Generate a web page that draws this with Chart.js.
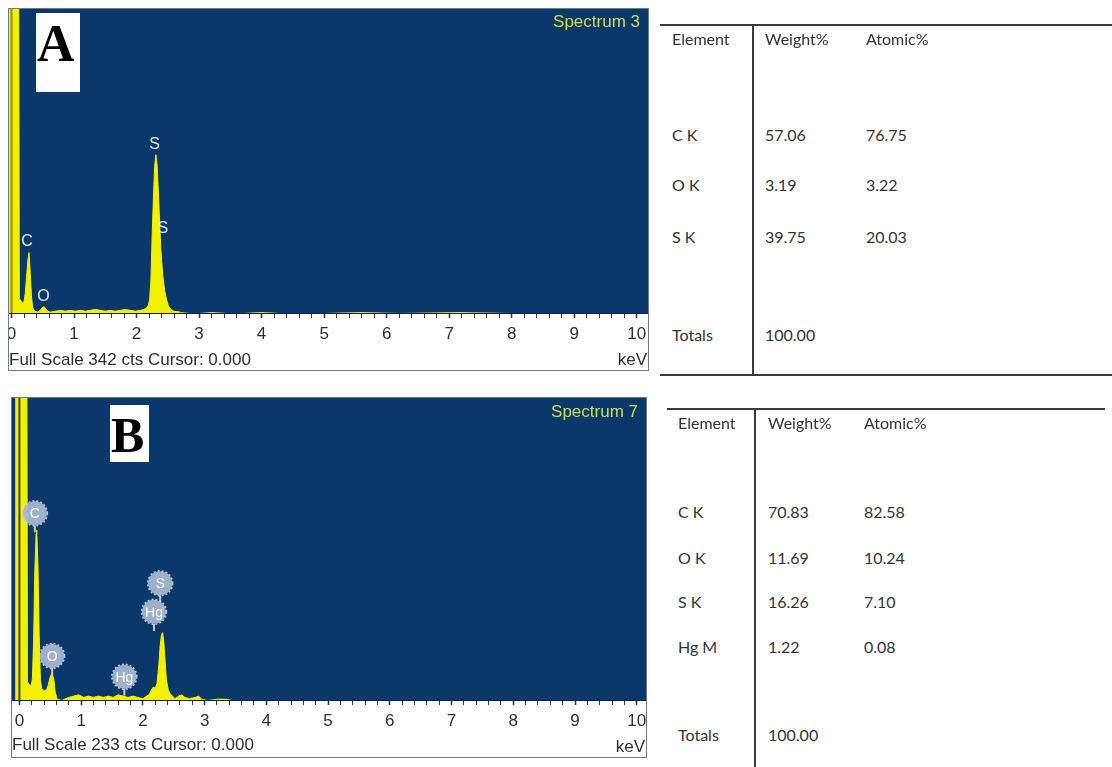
<!DOCTYPE html>
<html>
<head>
<meta charset="utf-8">
<script src="https://cdn.jsdelivr.net/npm/chart.js@4.4.1/dist/chart.umd.min.js"></script>
<style>
  html, body { margin: 0; padding: 0; background: #fff; }
  body { width: 1112px; height: 767px; position: relative; overflow: hidden;
         font-family: "Liberation Sans", Arial, sans-serif; }
  .frame { position: absolute; border: 1px solid #6c7a8f; box-sizing: border-box; }
  canvas { position: absolute; }
  .tagbox { position: absolute; background: #fff; }
  .tag { position: absolute; font-family: "Liberation Serif", "Times New Roman", serif;
         font-weight: bold; color: #000; white-space: nowrap; }
  .spec { position: absolute; color: #cddf48; font-size: 17px; line-height: 20px;
          white-space: nowrap; text-align: right; }
  .cell { position: absolute; font-family: Lato, "Open Sans", sans-serif; font-size: 16px;
          line-height: 20px; color: #333; white-space: nowrap; }
  .hl { position: absolute; height: 2px; background: #3a3a3a; }
  .vl { position: absolute; width: 2px; background: #3a3a3a; }
</style>
</head>
<body>

<!-- Spectrum 3 -->
<div class="frame" style="left:8px; top:8px; width:641px; height:363px;"></div>
<canvas id="specA" width="639" height="361" style="left:9px; top:9px;"></canvas>
<div class="tagbox" style="left:36px; top:13px; width:44px; height:79px;"></div>
<div class="tag" style="left:37px; top:18px; font-size:52px; line-height:52px;">A</div>
<div class="spec" style="right:472px; top:12px;">Spectrum 3</div>

<!-- Spectrum 7 -->
<div class="frame" style="left:11px; top:397px; width:636px; height:361px;"></div>
<canvas id="specB" width="634" height="359" style="left:12px; top:398px;"></canvas>
<div class="tagbox" style="left:110px; top:405px; width:39px; height:57px;"></div>
<div class="tag" style="left:111px; top:410px; font-size:50px; line-height:50px;">B</div>
<div class="spec" style="right:474px; top:402px;">Spectrum 7</div>

<div id="tables"></div>

<script>
// ---- spectrum 3 : energy (keV) and counts ----
const keVA = [
  -0.04, 0.00, 0.06, 0.10, 0.115, 0.125, 0.15, 0.18, 0.20, 0.22,
  0.24, 0.26, 0.28, 0.30, 0.32, 0.34, 0.37, 0.42, 0.46, 0.49,
  0.52, 0.55, 0.58, 0.62, 0.70, 0.78, 0.86, 0.94, 1.02, 1.10,
  1.18, 1.26, 1.34, 1.42, 1.50, 1.58, 1.66, 1.74, 1.82, 1.90,
  1.98, 2.06, 2.12, 2.16, 2.19, 2.21, 2.23, 2.25, 2.27, 2.29,
  2.31, 2.33, 2.35, 2.37, 2.39, 2.42, 2.45, 2.48, 2.51, 2.55,
  2.60, 2.70, 2.85, 3.00, 3.20, 3.45, 3.70, 4.00, 4.30, 4.60,
  5.00, 5.60, 6.20, 7.15, 8.00, 9.00, 10.18
];
const countsA = [
  900, 2600, 1800, 900, 400, 16, 14, 11, 13, 22,
  40, 58, 68, 45, 18, 6, 2, 1, 3, 6,
  7, 5, 2, 1, 2, 3, 2, 3, 2, 3,
  2, 3, 4, 3, 2, 3, 2, 3, 4, 3,
  2, 3, 4, 6, 9, 16, 38, 88, 130, 165,
  178, 165, 135, 100, 70, 42, 25, 15, 8, 4,
  2, 1, 0, 0, 1, 0, 0, 1, 0, 0,
  0, 1, 0, 1, 0, 0, 0
];
const fullScaleA = 342;
const peakNamesA = ['S', 'S', 'C', 'O'];
const peakKeVA   = [2.29, 2.42, 0.25, 0.51];
const peakCtsA   = [190, 95, 80, 19];

// ---- spectrum 7 : energy (keV) and counts ----
const keVB = [
  -0.12, -0.065, -0.06, 0.00, 0.06, 0.11, 0.12, 0.13, 0.16, 0.19,
  0.21, 0.23, 0.25, 0.27, 0.28, 0.30, 0.32, 0.34, 0.36, 0.40,
  0.44, 0.47, 0.50, 0.53, 0.56, 0.58, 0.61, 0.70, 0.80, 0.88,
  0.96, 1.04, 1.12, 1.20, 1.28, 1.36, 1.44, 1.52, 1.60, 1.68,
  1.76, 1.84, 1.92, 2.00, 2.06, 2.10, 2.14, 2.17, 2.20, 2.23,
  2.26, 2.28, 2.30, 2.32, 2.34, 2.36, 2.38, 2.41, 2.44, 2.48,
  2.52, 2.58, 2.63, 2.68, 2.75, 2.85, 2.90, 2.95, 3.05, 3.20,
  3.35, 3.45, 3.60, 10.15
];
const countsB = [
  0, 0, 700, 1600, 900, 500, 300, 14, 12, 11,
  16, 45, 100, 128, 131, 105, 50, 16, 9, 7,
  8, 12, 18, 21, 15, 6, 1, 0, 2, 3,
  4, 2, 3, 2, 3, 2, 3, 2, 4, 3,
  2, 3, 2, 1, 3, 4, 8, 10, 9, 13,
  28, 42, 50, 52, 44, 30, 16, 8, 5, 3,
  1, 3, 4, 2, 1, 2, 3, 1, 0, 1,
  1, 0, 0, 0
];
const fullScaleB = 233;
const peakNamesB = ['C', 'O', 'Hg', 'S', 'Hg'];
const peakKeVB   = [0.25, 0.53, 1.70, 2.28, 2.18];
const peakCtsB   = [144, 34, 18, 90, 68];

// ---- quantification tables ----
const tableHeader = ['Element', 'Weight%', 'Atomic%'];
const elementsA = ['C K', 'O K', 'S K'];
const weightA   = ['57.06', '3.19', '39.75'];
const atomicA   = ['76.75', '3.22', '20.03'];
const elementsB = ['C K', 'O K', 'S K', 'Hg M'];
const weightB   = ['70.83', '11.69', '16.26', '1.22'];
const atomicB   = ['82.58', '10.24', '7.10', '0.08'];
const totalLabel = 'Totals';
const totalValue = '100.00';

const cursorKeV = 0.0;
const PLOT_BG = '#0b386b';
const TRACE = '#f4f100';
const AXIS_FONT = { family: '"Liberation Sans", Arial, sans-serif', size: 17 };

// blue plotting field behind the trace
const fieldBackground = {
  id: 'fieldBackground',
  beforeDraw(chart) {
    const { ctx, chartArea: a } = chart;
    ctx.save();
    ctx.fillStyle = PLOT_BG;
    ctx.fillRect(a.left, a.top, a.right - a.left, a.bottom - a.top);
    ctx.restore();
  }
};

// cursor line, "keV" unit and element markers
function overlay(names, kev, cts, style, cursorAlpha) {
  return {
    id: 'overlay',
    afterDatasetsDraw(chart) {
      const { ctx, chartArea: a, scales: { x, y } } = chart;
      ctx.save();
      // cursor
      const cx = x.getPixelForValue(cursorKeV);
      ctx.strokeStyle = 'rgba(25,25,20,' + cursorAlpha + ')';
      ctx.lineWidth = 2;
      ctx.beginPath(); ctx.moveTo(cx, a.top); ctx.lineTo(cx, a.bottom); ctx.stroke();

      // unit label
      ctx.fillStyle = '#303030';
      ctx.font = '17px "Liberation Sans", Arial, sans-serif';
      ctx.textAlign = 'right';
      ctx.textBaseline = 'middle';
      ctx.fillText('keV', a.right - 1, chart.height - 10);

      // element markers
      ctx.textAlign = 'center';
      names.forEach((n, i) => {
        const px = x.getPixelForValue(kev[i]);
        const py = y.getPixelForValue(cts[i]);
        if (style === 'text') {
          ctx.fillStyle = '#e2e8f2';
          ctx.font = '16px "Liberation Sans", Arial, sans-serif';
          ctx.fillText(n, px, py);
        } else {
          const r = 12;
          ctx.strokeStyle = 'rgba(200,210,228,0.95)';
          ctx.lineWidth = 2;
          ctx.beginPath(); ctx.moveTo(px, py + r); ctx.lineTo(px, py + r + 7); ctx.stroke();
          ctx.fillStyle = 'rgba(168,182,208,0.95)';
          ctx.beginPath(); ctx.arc(px, py, r, 0, Math.PI * 2); ctx.fill();
          ctx.setLineDash([2, 2]);
          ctx.strokeStyle = 'rgba(205,214,230,0.9)';
          ctx.lineWidth = 1.5;
          ctx.beginPath(); ctx.arc(px, py, r + 0.5, 0, Math.PI * 2); ctx.stroke();
          ctx.setLineDash([]);
          ctx.fillStyle = '#ffffff';
          ctx.font = '14px "Liberation Sans", Arial, sans-serif';
          ctx.fillText(n, px, py + 1);
        }
      });
      ctx.restore();
    }
  };
}

function spectrum(id, kev, counts, xMin, xMax, fullScale, axisHeight, caption, captionPad, marks) {
  const points = kev.map((k, i) => ({ x: k, y: counts[i] }));
  return new Chart(document.getElementById(id), {
    type: 'line',
    data: {
      datasets: [{
        data: points,
        fill: 'origin',
        backgroundColor: TRACE,
        borderColor: TRACE,
        borderWidth: 1,
        pointRadius: 0,
        tension: 0,
        // no trace stroke along the near-empty stretches of the baseline
        segment: {
          borderColor: (c) => (c.p0.parsed.y <= 1 && c.p1.parsed.y <= 1) ? 'rgba(0,0,0,0)' : undefined
        }
      }]
    },
    options: {
      responsive: false,
      animation: false,
      events: [],
      layout: { padding: { left: 0, right: 0, top: 0, bottom: 0 } },
      plugins: { legend: { display: false }, tooltip: { enabled: false } },
      scales: {
        x: {
          type: 'linear',
          min: xMin,
          max: xMax,
          border: { display: true, color: '#14233a', width: 1 },
          grid: {
            drawOnChartArea: false,
            drawTicks: true,
            tickLength: 5,
            tickColor: '#3a3a3a',
            tickWidth: (c) => (c.tick && Math.abs(c.tick.value - Math.round(c.tick.value)) < 1e-6) ? 1.6 : 1
          },
          ticks: {
            stepSize: 0.2,
            autoSkip: false,
            includeBounds: false,
            maxRotation: 0,
            minRotation: 0,
            padding: 6,
            color: '#2e2e2e',
            font: AXIS_FONT,
            callback: (v) => Math.abs(v - Math.round(v)) < 1e-6 ? String(Math.round(v)) : ''
          },
          title: {
            display: true,
            text: caption,
            align: 'start',
            color: '#2e2e2e',
            font: { family: AXIS_FONT.family, size: 17, lineHeight: 1.1 },
            padding: { top: 0, bottom: captionPad }
          },
          afterFit(scale) {
            scale.height = axisHeight;
            scale.paddingLeft = 0;
            scale.paddingRight = 0;
          }
        },
        y: { display: false, min: 0, max: fullScale }
      }
    },
    plugins: [fieldBackground, marks]
  });
}

spectrum('specA', keVA, countsA, -0.04, 10.18, fullScaleA, 57,
  'Full Scale ' + fullScaleA + ' cts Cursor: 0.000', 0,
  overlay(peakNamesA, peakKeVA, peakCtsA, 'text', 0.45));

spectrum('specB', keVB, countsB, -0.12, 10.15, fullScaleB, 57,
  'Full Scale ' + fullScaleB + ' cts Cursor: 0.000', 2,
  overlay(peakNamesB, peakKeVB, peakCtsB, 'circle', 0.8));

// ---- tables ----
function put(cls, left, top, extra) {
  const d = document.createElement('div');
  d.className = cls;
  d.style.left = left + 'px';
  d.style.top = top + 'px';
  if (extra) Object.assign(d.style, extra);
  document.getElementById('tables').appendChild(d);
  return d;
}
function text(str, left, midY) {
  put('cell', left, midY - 10).textContent = str;
}
function table(cols, headY, rowYs, totalY, elements, weight, atomic) {
  tableHeader.forEach((h, i) => text(h, cols[i], headY));
  elements.forEach((e, i) => {
    text(e, cols[0], rowYs[i]);
    text(weight[i], cols[1], rowYs[i]);
    text(atomic[i], cols[2], rowYs[i]);
  });
  text(totalLabel, cols[0], totalY);
  text(totalValue, cols[1], totalY);
}

// table for spectrum 3
put('hl', 660, 24, { width: '452px' });
put('hl', 660, 374, { width: '452px' });
put('vl', 752, 24, { height: '352px' });
table([672, 765, 866], 39, [135, 185, 237], 335, elementsA, weightA, atomicA);

// table for spectrum 7
put('hl', 667, 408, { width: '438px' });
put('vl', 754, 408, { height: '359px' });
table([678, 768, 864], 423, [512, 558, 602, 647], 735, elementsB, weightB, atomicB);
</script>
</body>
</html>
